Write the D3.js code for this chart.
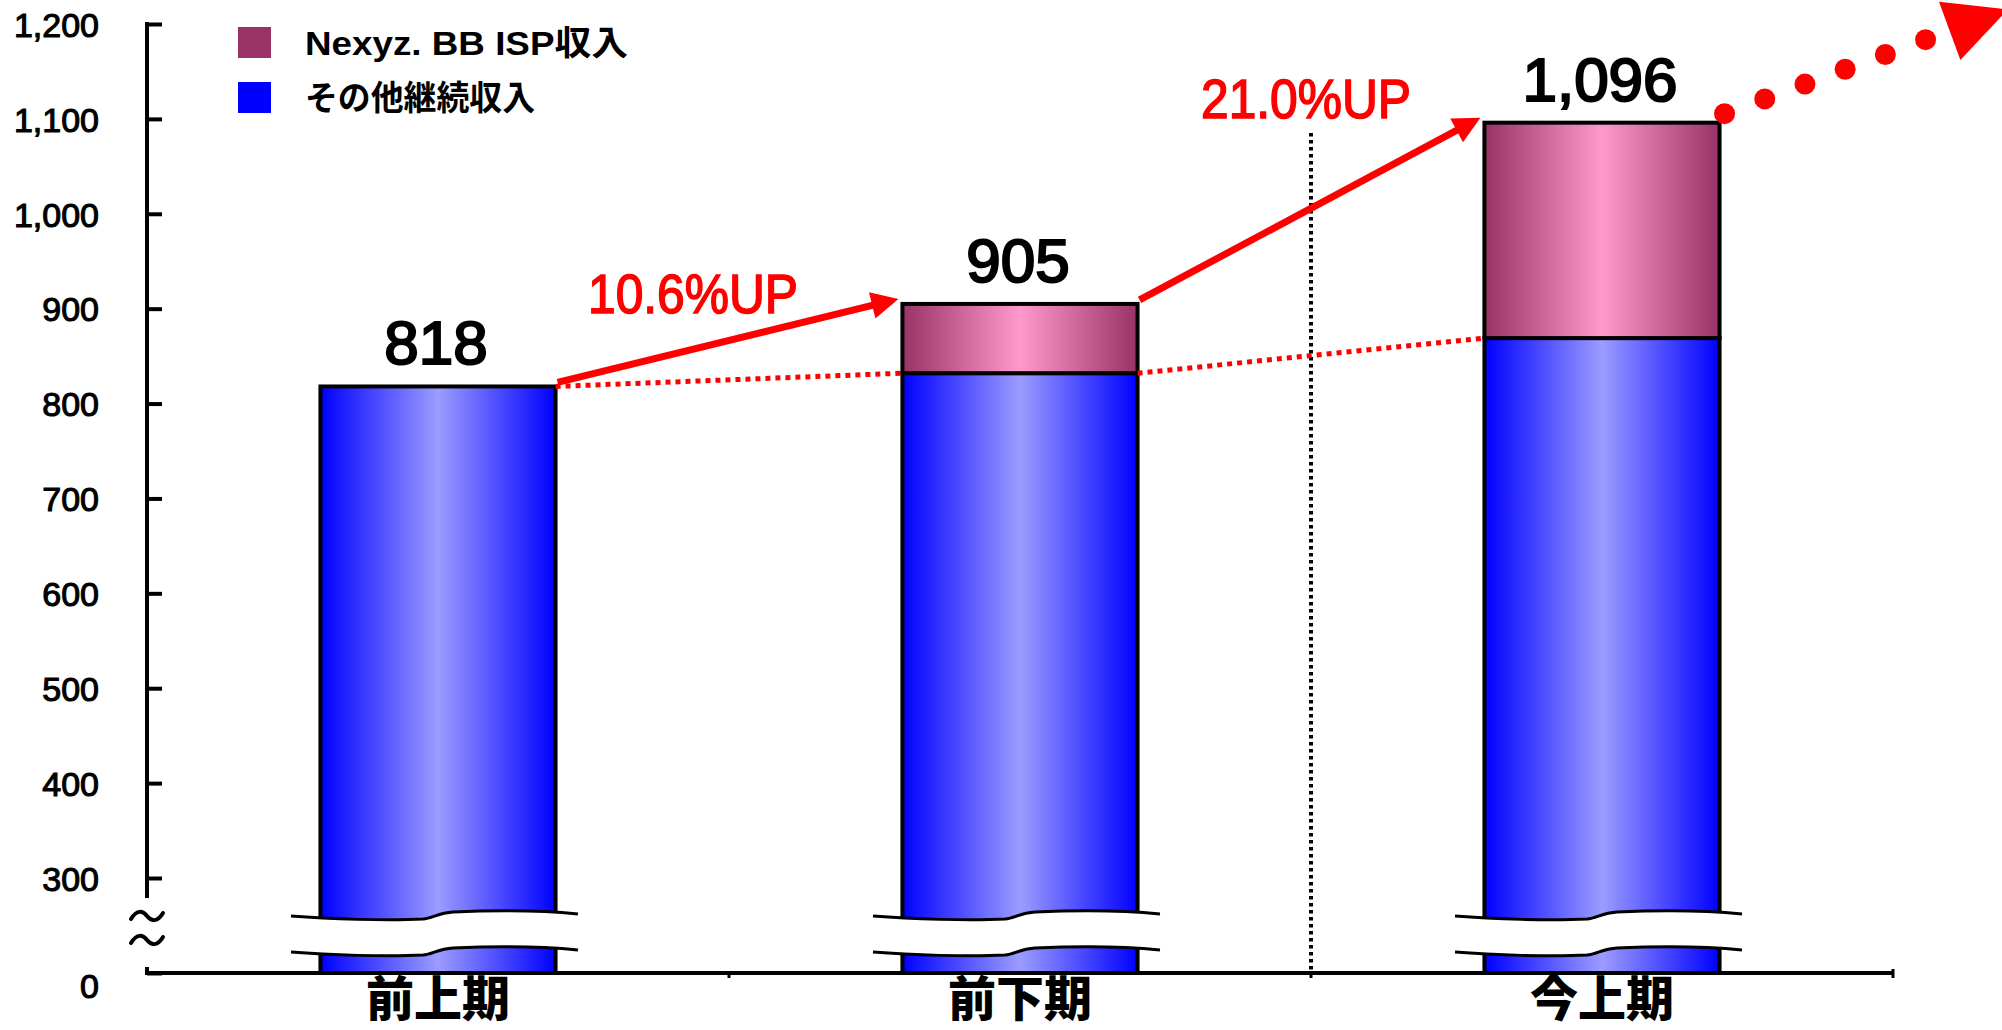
<!DOCTYPE html>
<html><head><meta charset="utf-8">
<script src="https://cdn.jsdelivr.net/npm/d3@7"></script>
<style>html,body{margin:0;padding:0;background:#fff;} svg{display:block}</style>
</head><body>
<svg id="chart" width="2002" height="1030"></svg>
<script>
// ---------- data ----------
const categories = ["前上期", "前下期", "今上期"];
const seriesNames = ["Nexyz. BB ISP収入", "その他継続収入"];
const otherRevenue = [818, 832, 869];
const nexyzRevenue = [0, 73, 227];
const totalLabels = ["818", "905", "1,096"];
const growthLabels = ["10.6%UP", "21.0%UP"];
const yTickValues = [0, 300, 400, 500, 600, 700, 800, 900, 1000, 1100, 1200];

// ---------- setup ----------
const svg = d3.select("#chart");
const defs = svg.append("defs");
const NUM_FONT = "'Liberation Sans', Arial, sans-serif";
const JP_FONT = "'Liberation Sans', 'Noto Sans CJK JP', sans-serif";
const CJK_FONT = "'Noto Sans CJK JP', sans-serif";

function grad(id, edge, mid) {
  const g = defs.append("linearGradient").attr("id", id)
    .attr("x1", "0%").attr("x2", "100%").attr("y1", "0%").attr("y2", "0%");
  g.append("stop").attr("offset", "0%").attr("stop-color", edge);
  g.append("stop").attr("offset", "50%").attr("stop-color", mid);
  g.append("stop").attr("offset", "100%").attr("stop-color", edge);
}
grad("gBlue", "#0000ff", "#9c9cff");
grad("gPink", "#993366", "#ff99cc");

const x = d3.scaleBand().domain(categories).range([147, 1893]).padding(0);
const barW = x.bandwidth() * 0.404;
const barX = c => x(c) + (x.bandwidth() - barW) / 2;
const y = d3.scaleLinear().domain([0, 300, 1200]).range([973, 878, 24]);

const rows = categories.map((c, i) => ({ cat: c, other: otherRevenue[i], nexyz: nexyzRevenue[i] }));
const stacked = d3.stack().keys(["other", "nexyz"])(rows);
const totals = rows.map(r => r.other + r.nexyz);
const fills = { other: "url(#gBlue)", nexyz: "url(#gPink)" };

// ---------- y axis ----------
const yAxis = d3.axisLeft(y).tickValues(yTickValues)
  .tickSizeInner(-15).tickSizeOuter(0).tickPadding(48)
  .tickFormat(d3.format(","));
const gy = svg.append("g").attr("transform", "translate(147,0)").call(yAxis);
gy.select(".domain").remove();
gy.selectAll(".tick line").attr("stroke", "#000").attr("stroke-width", 4);
gy.selectAll(".tick text")
  .attr("font-family", NUM_FONT).attr("font-size", 34).attr("font-weight", "normal")
  .attr("fill", "#000").attr("stroke", "#000").attr("stroke-width", 1.1)
  .attr("dy", d => d === 0 ? "0.72em" : "0.36em");
// axis line with break
svg.append("line").attr("x1", 147).attr("x2", 147).attr("y1", y(1200) - 2).attr("y2", y(300) + 20)
  .attr("stroke", "#000").attr("stroke-width", 4);
svg.append("line").attr("x1", 147).attr("x2", 147).attr("y1", y(0) - 6).attr("y2", y(0) + 2)
  .attr("stroke", "#000").attr("stroke-width", 4);
// tilde marks on axis
[916, 940].forEach(ty => {
  svg.append("path")
    .attr("d", `M${131},${ty + 3} C${137},${ty - 7} ${143},${ty - 5} ${147},${ty} C${151},${ty + 5} ${157},${ty + 7} ${163},${ty - 3}`)
    .attr("fill", "none").attr("stroke", "#000").attr("stroke-width", 4).attr("stroke-linecap", "round");
});

// ---------- vertical dotted divider ----------
svg.append("line").attr("x1", x(categories[2])).attr("x2", x(categories[2]))
  .attr("y1", 133).attr("y2", y(0))
  .attr("stroke", "#000").attr("stroke-width", 4).attr("stroke-dasharray", "3.5,3.5");

// ---------- bars ----------
const gBars = svg.append("g");
stacked.forEach(s => {
  gBars.selectAll(null).data(s.filter(d => d[1] - d[0] > 0)).enter().append("rect")
    .attr("x", d => barX(d.data.cat))
    .attr("width", barW)
    .attr("y", d => y(d[1]))
    .attr("height", d => y(d[0]) - y(d[1]))
    .attr("fill", fills[s.key])
    .attr("stroke", "#000").attr("stroke-width", 4);
});

// ---------- bar breaks ----------
const wavePts = [[-147, 0], [-110, 3], [-50, 5], [-15, 3], [-5, 2], [0, -3], [15, -4], [60, -6], [110, -5], [140, -2]];
function wavePath(cx, yy) {
  const p = wavePts.map(([a, b]) => [cx + a, yy + b]);
  return `M${p[0]} C${p[1]} ${p[2]} ${p[3]} C${p[4]} ${p[5]} ${p[6]} C${p[7]} ${p[8]} ${p[9]}`;
}
function bandPath(cx, y1, y2) {
  const p = wavePts.map(([a, b]) => [cx + a, y1 + b]);
  const q = wavePts.map(([a, b]) => [cx + a, y2 + b]);
  return `M${p[0]} C${p[1]} ${p[2]} ${p[3]} C${p[4]} ${p[5]} ${p[6]} C${p[7]} ${p[8]} ${p[9]}` +
    ` L${q[9]} C${q[8]} ${q[7]} ${q[6]} C${q[5]} ${q[4]} ${q[3]} C${q[2]} ${q[1]} ${q[0]} Z`;
}
const BREAK_TOP = y(0) - 57, BREAK_BOT = y(0) - 21;
categories.forEach(c => {
  const cx = x(c) + x.bandwidth() / 2;
  svg.append("path").attr("d", bandPath(cx, BREAK_TOP, BREAK_BOT)).attr("fill", "#fff");
  [BREAK_TOP, BREAK_BOT].forEach(yy => svg.append("path").attr("d", wavePath(cx, yy))
    .attr("fill", "none").attr("stroke", "#000").attr("stroke-width", 3));
});

// ---------- x axis ----------
svg.append("line").attr("x1", 147).attr("x2", 1893).attr("y1", y(0)).attr("y2", y(0))
  .attr("stroke", "#000").attr("stroke-width", 4);
categories.forEach((c, i) => {
  if (i === 0) return;
  svg.append("line").attr("x1", x(c)).attr("x2", x(c)).attr("y1", y(0)).attr("y2", y(0) + 5)
    .attr("stroke", "#000").attr("stroke-width", 3);
});
svg.append("line").attr("x1", 1893).attr("x2", 1893).attr("y1", y(0) - 4).attr("y2", y(0) + 5)
  .attr("stroke", "#000").attr("stroke-width", 3);
const xAxis = d3.axisBottom(x).tickSize(0).tickPadding(0);
const gx = svg.append("g").attr("transform", `translate(0,${y(0)})`).call(xAxis);
gx.select(".domain").remove();
gx.selectAll(".tick text").attr("font-family", CJK_FONT).attr("font-size", 48).attr("font-weight", 900)
  .attr("fill", "#000").attr("dy", 0).attr("y", 43);

// ---------- series lines (dotted red) ----------
for (let i = 0; i < categories.length - 1; i++) {
  svg.append("line")
    .attr("x1", barX(categories[i]) + barW).attr("y1", y(otherRevenue[i]))
    .attr("x2", barX(categories[i + 1])).attr("y2", y(otherRevenue[i + 1]))
    .attr("stroke", "#ff0000").attr("stroke-width", 5).attr("stroke-dasharray", "5,5");
}

// ---------- growth arrows ----------
function arrow(x1, y1, x2, y2, w, headL, headW) {
  const ang = Math.atan2(y2 - y1, x2 - x1);
  const bx = x2 - headL * Math.cos(ang), by = y2 - headL * Math.sin(ang);
  svg.append("line").attr("x1", x1).attr("y1", y1).attr("x2", bx + Math.cos(ang)).attr("y2", by + Math.sin(ang))
    .attr("stroke", "#ff0000").attr("stroke-width", w);
  const px = -Math.sin(ang) * headW / 2, py = Math.cos(ang) * headW / 2;
  svg.append("path").attr("d", `M${x2},${y2} L${bx + px},${by + py} L${bx - px},${by - py} Z`).attr("fill", "#ff0000");
}
const growthLabelPos = [[-36, 9], [-5, -5]];
for (let i = 0; i < categories.length - 1; i++) {
  const x1 = barX(categories[i]) + barW + 2, y1 = y(totals[i]) - 4;
  const x2 = barX(categories[i + 1]) - 4, y2 = y(totals[i + 1]) - 5;
  arrow(x1, y1, x2, y2, 7, 27, 27);
  const mx = (barX(categories[i]) + barW + barX(categories[i + 1])) / 2;
  svg.append("text").attr("x", mx + growthLabelPos[i][0]).attr("y", y(totals[i + 1]) + growthLabelPos[i][1])
    .attr("text-anchor", "middle").attr("font-family", NUM_FONT).attr("font-size", 56)
    .attr("fill", "#ff0000").attr("stroke", "#ff0000").attr("stroke-width", 1.6)
    .attr("textLength", 210).attr("lengthAdjust", "spacingAndGlyphs")
    .text(growthLabels[i]);
}

// ---------- forecast trail (red dots + arrowhead) ----------
{
  const last = categories.length - 1;
  const sx = barX(categories[last]) + barW + 5, sy = y(totals[last]) - 9;
  const dx = 40.2, dy = -14.8;
  const pts = d3.range(6).map(k => [sx + k * dx, sy + k * dy]);
  svg.selectAll(null).data(pts).enter().append("circle")
    .attr("cx", d => d[0]).attr("cy", d => d[1]).attr("r", 10.5).attr("fill", "#ff0000");
  const ang = Math.atan2(dy, dx);
  const bmx = sx + 5.6 * dx, bmy = sy + 5.6 * dy;
  const L = 62, hw = 31;
  const tx = bmx + L * Math.cos(ang), ty = bmy + L * Math.sin(ang);
  const px = -Math.sin(ang) * hw, py = Math.cos(ang) * hw;
  svg.append("path").attr("d", `M${tx},${ty} L${bmx + px},${bmy + py} L${bmx - px},${bmy - py} Z`).attr("fill", "#ff0000");
}

// ---------- total labels ----------
svg.selectAll(null).data(categories).enter().append("text")
  .attr("x", c => x(c) + x.bandwidth() / 2 - 2)
  .attr("y", (c, i) => y(totals[i]) - 22)
  .attr("text-anchor", "middle").attr("font-family", NUM_FONT).attr("font-size", 62)
  .attr("font-weight", "normal").attr("fill", "#000").attr("stroke", "#000").attr("stroke-width", 2.2)
  .text((c, i) => totalLabels[i]);

// ---------- legend ----------
const legendColors = ["#993366", "#0000ff"];
const legendLen = [323, 230];
seriesNames.forEach((n, i) => {
  const ly = 27 + i * 55;
  svg.append("rect").attr("x", 238).attr("y", ly).attr("width", 33).attr("height", 31).attr("fill", legendColors[i]);
  svg.append("text").attr("x", 305).attr("y", ly + 28).attr("font-family", JP_FONT)
    .attr("font-size", 34).attr("font-weight", "bold").attr("fill", "#000")
    .attr("textLength", legendLen[i]).attr("lengthAdjust", "spacingAndGlyphs").text(n);
});
</script>
</body></html>
